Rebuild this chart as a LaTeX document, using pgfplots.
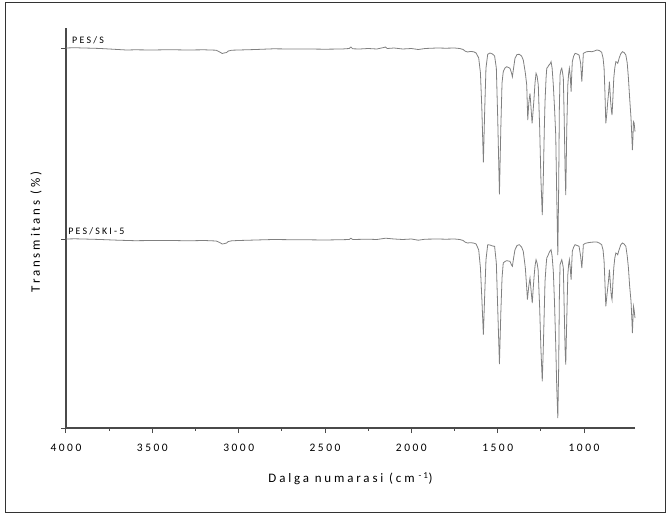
\documentclass[border=0pt]{standalone}
\usepackage{fontspec}
\usepackage{pgfplots}
\pgfplotsset{compat=1.18}
\setmainfont{Carlito}
\newfontfamily\spaced{Carlito}[LetterSpace=22]

\definecolor{axisgray}{HTML}{4A4A4A}
\definecolor{specgray}{HTML}{808080}

% FTIR spectra, transmittance offset in arbitrary units
\pgfplotstableread{
wn v
4000 380
3950 380.3
3900 380
3850 379.8
3800 379.5
3750 379
3700 378.5
3650 378
3600 378.2
3500 378
3400 378.3
3300 378
3200 378.2
3130 377.8
3110 376
3095 374.5
3085 375
3070 375.5
3060 377
3040 377.8
3000 378
2900 378.5
2800 379.2
2700 379
2600 379
2500 378.8
2400 379
2360 379.5
2350 381
2340 379.2
2300 379
2250 379.5
2200 379
2160 380.5
2150 381
2140 379.5
2100 380
2050 379
2000 379.5
1960 378.5
1920 379.5
1880 379.8
1850 380
1800 379.8
1750 380
1720 379.5
1700 378.5
1690 377
1675 376
1660 376.5
1640 376.3
1625 375
1610 370
1600 355
1592 320
1583 265.7
1575 320
1568 360
1558 373.7
1545 375
1530 374
1518 372
1508 360
1500 310
1490 233.7
1482 300
1475 345
1468 356.3
1458 360
1448 361.3
1438 360.5
1429 359.7
1420 355
1415 351.3
1408 360
1400 369.7
1388 373.5
1375 373.7
1362 372
1352 368
1340 355
1332 343
1326 308
1320 325
1313 334.7
1307 320
1301 304.7
1296 315
1291 326.3
1284 345
1278 354.7
1272 352
1265 343
1257 300
1250 250
1242 213
1236 250
1230 300
1226 326.3
1220 350
1216 359.7
1210 361
1203 363
1197 364
1191 366.3
1185 360
1178 343
1171 320
1164 293
1158 230
1152 173
1147 240
1143 320
1139 353
1134 358
1129 359.7
1125 356
1120 349.7
1115 310
1110 260
1106 233
1100 300
1094 343
1089 355
1085 359.7
1080 352
1075 336.3
1071 355
1068 366.3
1060 372
1052 374.7
1040 374
1029 373
1020 365
1013 346.3
1008 362
1004 374.7
995 375.5
985 376.3
970 376.5
955 376.3
940 377
926 378
912 377.5
898 375.7
890 370
884 359.7
879 335
874 304.7
868 315
863 326.3
858 335
853 346.3
849 335
846 326.3
842 318
838 313
833 330
828 349.7
822 360
816 366.3
811 366
805 364.7
801 367
797 369.7
788 374
778 376.3
768 375.5
758 373
750 365
743 349.7
736 330
728 309.7
723 290
720 278
717 290
714 306.3
710 305
705 296.3
}\pesS

\pgfplotstableread{
wn v
4000 189
3950 189.2
3900 189
3800 188.5
3700 187.8
3600 187.3
3500 187.5
3400 187.6
3300 187.2
3200 187.5
3130 187
3110 185.5
3095 184
3085 184.3
3070 185
3060 186.5
3040 187.2
3000 187.5
2900 188
2800 188.5
2700 188.3
2600 188.2
2500 188
2400 188.3
2360 188.5
2350 189.8
2340 188.5
2250 188.8
2200 188.5
2160 189.5
2150 189.8
2100 189
2050 188.5
2000 189
1960 187.8
1920 188.8
1850 189
1800 188.8
1750 189
1720 188.5
1700 187.5
1690 186
1675 185
1660 185.3
1640 185
1625 184
1610 178
1600 160
1592 130
1583 93.3
1575 135
1568 168
1558 183.3
1545 183
1530 182
1518 181.7
1508 165
1500 120
1490 64
1482 115
1475 150
1468 165
1458 166.5
1448 167.3
1438 167
1429 166.7
1420 163
1415 161.7
1408 170
1400 178.3
1388 182.5
1375 183.3
1362 181
1352 176.7
1340 160
1332 140
1328 128.3
1320 142
1313 150
1307 138
1300 125
1295 138
1290 150
1284 162
1278 168.3
1272 165
1266 158.3
1257 120
1250 80
1242 46.7
1236 80
1230 120
1226 146.7
1220 162
1216 170
1210 172
1203 175
1197 177
1191 178.3
1185 172
1178 156.7
1171 125
1164 83.3
1158 40
1152 10
1147 60
1143 130
1139 163.3
1134 166
1129 168.3
1125 165
1120 160
1115 120
1110 80
1106 63.3
1100 110
1094 153.3
1089 164
1085 168.3
1080 160
1075 148.3
1071 165
1068 176.7
1060 181
1052 183.3
1040 182.5
1029 181.7
1020 172
1013 160
1008 172
1004 183.3
995 184.5
985 185
970 185.5
955 185.8
940 186
926 186
912 185
898 183.3
890 178
884 166.7
879 145
874 121.7
868 132
863 140
858 148
853 158.3
849 148
846 140
842 132
838 128.3
833 145
828 160
822 170
816 175
811 174.5
805 173.3
801 176
797 178.3
788 183
778 185
768 184
758 181.7
750 172
743 160
736 142
728 126.7
723 108
720 95
717 108
714 121.7
710 118
705 110
}\pesSKI

\begin{document}
\begin{tikzpicture}
% outer frame of the figure
\path[use as bounding box] (-66bp,-86bp) rectangle (601bp,428bp);
\draw[line width=0.9bp, black!80] (-61bp,-84bp) rectangle (599bp,426bp);
\begin{axis}[
  at={(0,0)}, anchor=south west,
  scale only axis, width=569bp, height=400bp,
  x dir=reverse,
  xmin=705, xmax=4000, ymin=0, ymax=400,
  axis x line=bottom, axis y line=left,
  axis line style={-, line width=1.1bp, axisgray},
  every tick/.style={axisgray, line width=1bp},
  tick align=outside,
  major tick length=5bp, minor tick length=2.5bp,
  xtick={1000,1500,2000,2500,3000,3500,4000},
  minor x tick num=1,
  ytick={0,189,380}, yticklabels={},
  /pgf/number format/set thousands separator={},
  /pgf/number format/assume math mode=true,
  xticklabel style={font=\spaced\fontsize{11.5}{13}\selectfont, yshift=-8bp},
  xlabel={Dalga numarasi (cm\textsuperscript{ -1})},
  ylabel={Transmitans (\%)},
  every axis x label/.style={at={(axis description cs:0.5,0)}, anchor=center, yshift=-51bp,
    font=\spaced\fontsize{13}{15}\selectfont},
  every axis y label/.style={at={(axis description cs:-0.0527,0.49)}, anchor=center, rotate=90,
    font=\spaced\fontsize{13}{15}\selectfont},
  clip=false,
]
\addplot[specgray, line width=0.8bp] table[x=wn, y=v] {\pesS};
\addplot[specgray, line width=0.8bp] table[x=wn, y=v] {\pesSKI};
\node[anchor=south west, inner sep=0, font=\spaced\fontsize{10}{12}\selectfont] at (axis cs:3965,384) {PES/S};
\node[anchor=south west, inner sep=0, font=\spaced\fontsize{10}{12}\selectfont] at (axis cs:3988,193) {PES/SKI-5};
\end{axis}
\end{tikzpicture}
\end{document}
